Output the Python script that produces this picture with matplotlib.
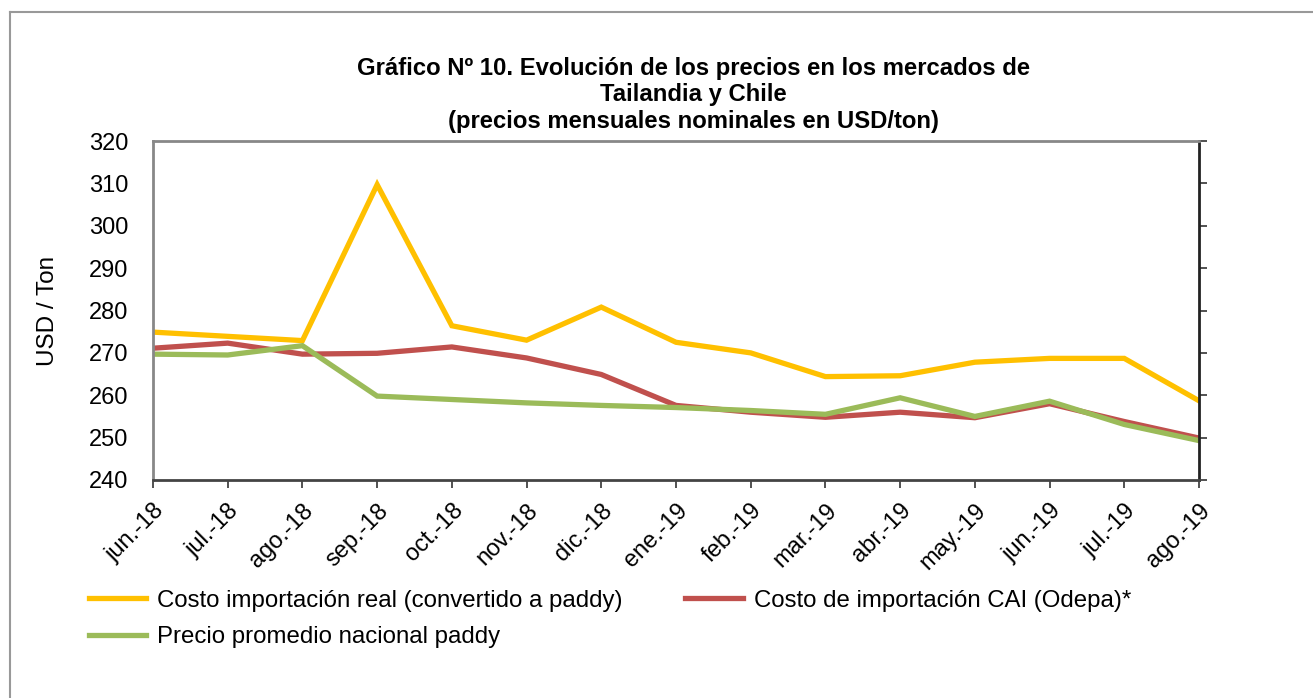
import matplotlib.pyplot as plt
from matplotlib.lines import Line2D

plt.rcParams['font.family'] = ['Liberation Sans', 'DejaVu Sans']

meses = ["jun.-18", "jul.-18", "ago.-18", "sep.-18", "oct.-18", "nov.-18", "dic.-18",
         "ene.-19", "feb.-19", "mar.-19", "abr.-19", "may.-19", "jun.-19", "jul.-19", "ago.-19"]
costo_real = [274.9, 273.9, 272.9, 309.7, 276.4, 273.0, 280.8,
              272.5, 270.0, 264.4, 264.6, 267.8, 268.7, 268.7, 258.7]
costo_cai = [271.1, 272.3, 269.7, 269.9, 271.4, 268.8, 264.9,
             257.6, 256.0, 254.8, 256.0, 254.7, 258.0, 253.8, 249.9]
precio_nac = [269.7, 269.5, 271.7, 259.8, 259.0, 258.2, 257.6,
              257.1, 256.4, 255.5, 259.4, 255.0, 258.6, 253.1, 249.3]

fig = plt.figure(figsize=(13.13, 6.98), dpi=100)
ax = fig.add_axes([153 / 1313, 1 - 480 / 698, (1199 - 153) / 1313, (480 - 141) / 698])

x = range(len(meses))
l1, = ax.plot(x, costo_real, color="#FFC000", lw=3.8, solid_joinstyle="miter")
l2, = ax.plot(x, costo_cai, color="#C0504D", lw=3.8, solid_joinstyle="miter")
l3, = ax.plot(x, precio_nac, color="#9BBB59", lw=3.8, solid_joinstyle="miter")

ax.set_xlim(0, len(meses) - 1)
ax.set_ylim(240, 320)
ax.set_yticks(range(240, 321, 10))
ax.set_xticks(list(x))
ax.set_xticklabels(meses, rotation=45, ha="right", rotation_mode="anchor", fontsize=17)
ax.tick_params(axis="y", which="both", left=False, right=True, direction="out",
               length=6, width=1.2, color="#333333", labelsize=17, pad=12)
ax.tick_params(axis="x", direction="out", length=6, width=1.2, color="#333333", pad=8)

ax.spines["left"].set_color("#888888")
ax.spines["top"].set_color("#888888")
ax.spines["right"].set_color("#222222")
ax.spines["bottom"].set_color("#444444")
for s in ax.spines.values():
    s.set_linewidth(2)

ax.set_ylabel("USD / Ton", fontsize=17.5, labelpad=21)

fig.text(0.528, 0.864, "Gráfico Nº 10. Evolución de los precios en los mercados de\n"
         "Tailandia y Chile\n(precios mensuales nominales en USD/ton)",
         ha="center", va="center", fontsize=17.2, fontweight="bold", linespacing=1.18)

# legend filled row by row
fig.legend([l1, l3, l2],
           ["Costo importación real (convertido a paddy)", "Precio promedio nacional paddy",
            "Costo de importación CAI (Odepa)*"],
           ncol=2, loc="upper left", bbox_to_anchor=(67 / 1313, 1 - 568 / 698),
           frameon=False, fontsize=17.3, handlelength=2.4, handletextpad=0.45,
           columnspacing=2.6, labelspacing=0.6)

# outer frame
fig.add_artist(Line2D([10 / 1313, 10 / 1313], [0, 1 - 12 / 698], color="#999999", lw=1.5,
                      transform=fig.transFigure))
fig.add_artist(Line2D([10 / 1313, 1], [1 - 12 / 698, 1 - 12 / 698], color="#999999", lw=1.5,
                      transform=fig.transFigure))

fig.savefig("out.png", dpi=100)
